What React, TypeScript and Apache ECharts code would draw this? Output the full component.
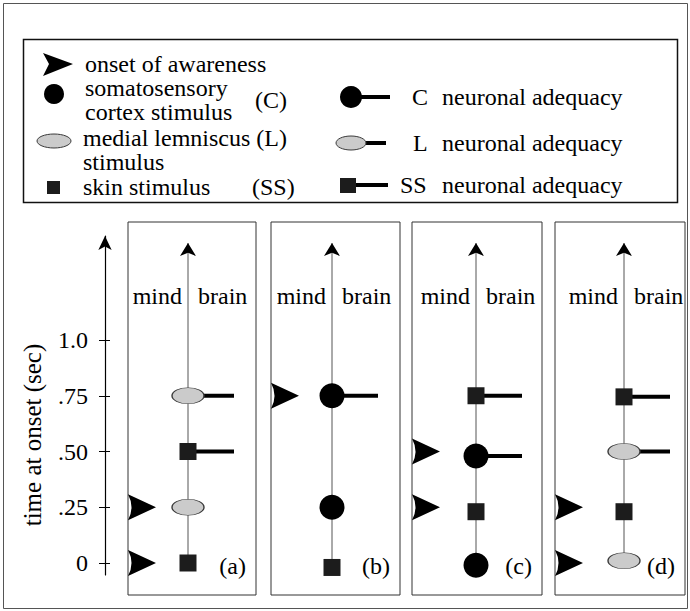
import React, { useEffect, useRef } from 'react';
import * as echarts from 'echarts';

// ---------- data ----------
const panelNames = ['(a)', '(b)', '(c)', '(d)'];
const awarenessOnset = [[0, 0.25], [0.75], [0.25, 0.5], [0, 0.25]];
const cortexStimulus = [[], [0.25, 0.75], [-0.01, 0.48], []];
const lemniscusStimulus = [[0.25, 0.75], [], [], [0.01, 0.5]];
const skinStimulus = [[0, 0.5], [-0.02], [0.23, 0.75], [0.23, 0.745]];
const neuronalAdequacy = [[0.5, 0.75], [0.75], [0.48, 0.75], [0.5, 0.745]];
const tickValues = [0, 0.25, 0.5, 0.75, 1.0];
const tickLabels = ['0', '.25', '.50', '.75', '1.0'];
const axisTitle = 'time at onset (sec)';
const sideLabels = ['mind', 'brain'];
const legendLeft = [
  ['onset of awareness'],
  ['somatosensory\ncortex stimulus', '(C)'],
  ['medial lemniscus (L)\nstimulus'],
  ['skin stimulus', '(SS)'],
];
const legendRight = [
  ['C', 'neuronal adequacy'],
  ['L', 'neuronal adequacy'],
  ['SS', 'neuronal adequacy'],
];

// ---------- layout ----------
const FONT = '"Liberation Serif", "Times New Roman", serif';
const ZERO_Y = 563;
const UNIT = 223;
const PANEL_TOP = 222;
const PANEL_H = 373;
const panelBoxes = [
  { left: 128, width: 128, axis: 60 },
  { left: 271, width: 129, axis: 61 },
  { left: 412, width: 130, axis: 64 },
  { left: 555, width: 130, axis: 69 },
];
const yMinPanel = -(PANEL_TOP + PANEL_H - ZERO_Y) / UNIT;
const yMaxPanel = (ZERO_Y - PANEL_TOP) / UNIT;
const MAIN_TOP = 236;
const MAIN_BOTTOM = 575;
const arrowTipValue = (ZERO_Y - 243) / UNIT;

const ELLIPSE = 'path://M0,8 C0,3.6 7.2,0 16,0 C24.8,0 32,3.6 32,8 C32,12.4 24.8,16 16,16 C7.2,16 0,12.4 0,8 Z';
const TRI = 'path://M0,0 L28,13 L0,26 Q7,13 0,0 Z';

const ellipseStyle = { color: '#cbcbcb', borderColor: '#3a3a3a', borderWidth: 1, opacity: 1 };
const squareStyle = { color: '#1c1c1c', opacity: 1 };

function txt(text: string, x: number, y: number, size = 24, align = 'left', lineHeight?: number) {
  const style: any = {
    text,
    font: `${size}px ${FONT}`,
    fontSize: size,
    fontFamily: FONT,
    fill: '#000',
    align,
    verticalAlign: 'middle',
    textAlign: align,
    textVerticalAlign: 'middle',
  };
  if (lineHeight) style.lineHeight = lineHeight;
  return { type: 'text', x, y, silent: true, style };
}

export default function App() {
  const ref = useRef<HTMLDivElement>(null);
  useEffect(() => {
    if (!ref.current) return;
    const chart = echarts.init(ref.current, undefined, { renderer: 'svg' });

    const grids: any[] = [];
    const xAxes: any[] = [];
    const yAxes: any[] = [];
    const series: any[] = [];
    const graphics: any[] = [];

    panelBoxes.forEach((b, i) => {
      grids.push({
        left: b.left, top: PANEL_TOP, width: b.width, height: PANEL_H,
        show: true, borderColor: '#333', borderWidth: 1, backgroundColor: 'transparent',
      });
      xAxes.push({ gridIndex: i, type: 'value', min: 0, max: b.width, show: false });
      yAxes.push({ gridIndex: i, type: 'value', min: yMinPanel, max: yMaxPanel, show: false });

      const all = [...cortexStimulus[i], ...lemniscusStimulus[i], ...skinStimulus[i]];
      const lowest = Math.min(...all);
      // vertical time axis of the panel
      series.push({
        type: 'line', xAxisIndex: i, yAxisIndex: i, z: 1, silent: true,
        showSymbol: false, symbol: 'none',
        lineStyle: { color: '#555', width: 1 },
        data: [[b.axis, lowest], [b.axis, arrowTipValue]],
      });
      series.push({
        type: 'scatter', xAxisIndex: i, yAxisIndex: i, z: 2, silent: true,
        symbol: 'arrow', symbolSize: [12, 13],
        itemStyle: { color: '#000', opacity: 1 },
        data: [[b.axis, arrowTipValue]],
      });
      // neuronal adequacy bars
      series.push({
        type: 'custom', xAxisIndex: i, yAxisIndex: i, z: 2, silent: true, clip: false,
        data: neuronalAdequacy[i].map((v) => [b.axis, v]),
        renderItem: (params: any, api: any) => {
          const p = api.coord([api.value(0), api.value(1)]);
          return {
            type: 'line',
            shape: { x1: p[0], y1: p[1], x2: p[0] + 46, y2: p[1] },
            style: { stroke: '#000', lineWidth: 4 },
          };
        },
      });
      series.push({
        type: 'scatter', xAxisIndex: i, yAxisIndex: i, z: 3, silent: true, clip: false,
        symbol: TRI, symbolSize: [28, 26], itemStyle: { color: '#000', opacity: 1 },
        data: awarenessOnset[i].map((v) => [14, v]),
      });
      series.push({
        type: 'scatter', xAxisIndex: i, yAxisIndex: i, z: 3, silent: true, clip: false,
        symbol: 'circle', symbolSize: 25, itemStyle: { color: '#000', opacity: 1 },
        data: cortexStimulus[i].map((v) => [b.axis, v]),
      });
      series.push({
        type: 'scatter', xAxisIndex: i, yAxisIndex: i, z: 3, silent: true, clip: false,
        symbol: ELLIPSE, symbolSize: [32, 16], itemStyle: ellipseStyle,
        data: lemniscusStimulus[i].map((v) => [b.axis, v]),
      });
      series.push({
        type: 'scatter', xAxisIndex: i, yAxisIndex: i, z: 3, silent: true, clip: false,
        symbol: 'rect', symbolSize: 17, itemStyle: squareStyle,
        data: skinStimulus[i].map((v) => [b.axis, v]),
      });

      const ax = b.left + b.axis;
      graphics.push(txt(sideLabels[0], ax - 6, 296, 24, 'right'));
      graphics.push(txt(sideLabels[1], ax + 10, 296, 24, 'left'));
      graphics.push(txt(panelNames[i], b.left + b.width - 10, 566, 24, 'right'));
    });

    // main time axis
    grids.push({ left: 105, top: MAIN_TOP, width: 10, height: MAIN_BOTTOM - MAIN_TOP });
    xAxes.push({ gridIndex: 4, type: 'value', min: 0, max: 1, show: false });
    const mainMin = -(MAIN_BOTTOM - ZERO_Y) / UNIT;
    const mainMax = (ZERO_Y - MAIN_TOP) / UNIT;
    yAxes.push({
      gridIndex: 4, type: 'value', position: 'left', min: mainMin, max: mainMax,
      axisLine: { show: true, symbol: ['none', 'arrow'], symbolSize: [10, 14], lineStyle: { color: '#000', width: 1.2 } },
      axisTick: { show: true, customValues: tickValues, length: 6, lineStyle: { color: '#000', width: 1 } },
      axisLabel: {
        show: true, customValues: tickValues, margin: 17,
        fontSize: 24, fontFamily: FONT, color: '#000',
        formatter: (v: number) => {
          let best = 0;
          tickValues.forEach((t, k) => { if (Math.abs(t - v) < Math.abs(tickValues[best] - v)) best = k; });
          return tickLabels[best];
        },
      },
      splitLine: { show: false },
    });
    yAxes.push({
      gridIndex: 4, type: 'value', position: 'left', offset: 0, min: mainMin, max: mainMax,
      axisLine: { show: false },
      axisTick: { show: true, inside: true, customValues: tickValues, length: 5, lineStyle: { color: '#000', width: 1 } },
      axisLabel: { show: false },
      splitLine: { show: false },
    });
    series.push({ type: 'line', xAxisIndex: 4, yAxisIndex: 4, data: [], silent: true });

    graphics.push({
      type: 'text', x: 32, y: 435, rotation: Math.PI / 2, silent: true,
      style: {
        text: axisTitle, font: `25px ${FONT}`, fontSize: 25, fontFamily: FONT, fill: '#000',
        align: 'center', verticalAlign: 'middle', textAlign: 'center', textVerticalAlign: 'middle',
      },
    });

    // frames
    graphics.push({ type: 'rect', silent: true, shape: { x: 3.5, y: 3.5, width: 684, height: 605 }, style: { fill: 'none', stroke: '#555', lineWidth: 1 } });
    graphics.push({ type: 'rect', silent: true, shape: { x: 23.5, y: 39.5, width: 654, height: 163 }, style: { fill: 'none', stroke: '#111', lineWidth: 1.5 } });

    // legend left column
    graphics.push({ type: 'polygon', silent: true, shape: { points: [[43, 53], [73, 64], [43, 76], [49, 64]] }, style: { fill: '#000' } });
    graphics.push(txt(legendLeft[0][0], 85, 64));
    graphics.push({ type: 'circle', silent: true, shape: { cx: 54, cy: 94, r: 10 }, style: { fill: '#000' } });
    graphics.push(txt(legendLeft[1][0], 85, 100, 24, 'left', 24));
    graphics.push(txt(legendLeft[1][1], 255, 100));
    graphics.push({ type: 'ellipse', silent: true, shape: { cx: 54, cy: 141, rx: 17, ry: 7 }, style: { fill: '#cbcbcb', stroke: '#3a3a3a', lineWidth: 1 } });
    graphics.push(txt(legendLeft[2][0], 83, 150, 24, 'left', 24));
    graphics.push({ type: 'rect', silent: true, shape: { x: 47, y: 181, width: 13, height: 13 }, style: { fill: '#1c1c1c' } });
    graphics.push(txt(legendLeft[3][0], 83, 187));
    graphics.push(txt(legendLeft[3][1], 252, 187));

    // legend right column
    graphics.push({ type: 'line', silent: true, shape: { x1: 351, y1: 97, x2: 390, y2: 97 }, style: { stroke: '#000', lineWidth: 4 } });
    graphics.push({ type: 'circle', silent: true, shape: { cx: 351, cy: 97, r: 11 }, style: { fill: '#000' } });
    graphics.push(txt(legendRight[0][0], 412, 97));
    graphics.push(txt(legendRight[0][1], 442, 97));
    graphics.push({ type: 'line', silent: true, shape: { x1: 351, y1: 143, x2: 386, y2: 143 }, style: { stroke: '#000', lineWidth: 4 } });
    graphics.push({ type: 'ellipse', silent: true, shape: { cx: 351, cy: 143, rx: 15, ry: 7 }, style: { fill: '#cbcbcb', stroke: '#3a3a3a', lineWidth: 1 } });
    graphics.push(txt(legendRight[1][0], 413, 143));
    graphics.push(txt(legendRight[1][1], 442, 143));
    graphics.push({ type: 'line', silent: true, shape: { x1: 348, y1: 185, x2: 388, y2: 185 }, style: { stroke: '#000', lineWidth: 4 } });
    graphics.push({ type: 'rect', silent: true, shape: { x: 340, y: 178, width: 16, height: 15 }, style: { fill: '#1c1c1c' } });
    graphics.push(txt(legendRight[2][0], 400, 185));
    graphics.push(txt(legendRight[2][1], 442, 185));

    chart.setOption({
      animation: false,
      backgroundColor: '#fff',
      grid: grids,
      xAxis: xAxes,
      yAxis: yAxes,
      series,
      graphic: { elements: graphics },
    });
    return () => chart.dispose();
  }, []);

  return (
    <div
      ref={ref}
      style={{ position: 'absolute', left: 0, top: 0, width: 690, height: 611 }}
    />
  );
}
